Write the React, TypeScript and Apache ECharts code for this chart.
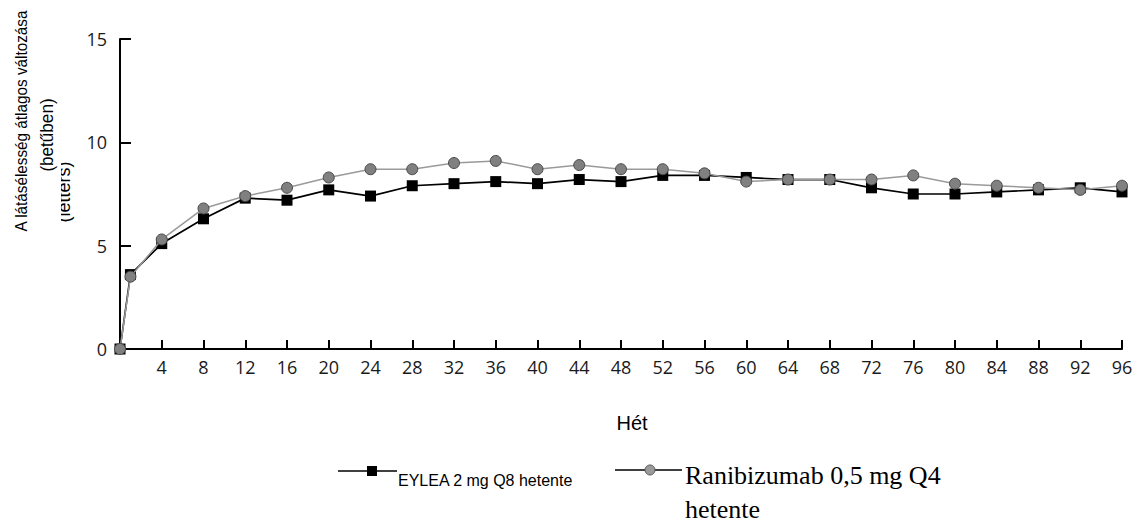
import React, { useEffect, useRef } from "react";
import * as echarts from "echarts";

const weeks = [0, 1, 4, 8, 12, 16, 20, 24, 28, 32, 36, 40, 44, 48, 52, 56, 60, 64, 68, 72, 76, 80, 84, 88, 92, 96];
const eylea = [0, 3.6, 5.1, 6.3, 7.3, 7.2, 7.7, 7.4, 7.9, 8.0, 8.1, 8.0, 8.2, 8.1, 8.4, 8.4, 8.3, 8.2, 8.2, 7.8, 7.5, 7.5, 7.6, 7.7, 7.8, 7.6];
const ranibizumab = [0, 3.5, 5.3, 6.8, 7.4, 7.8, 8.3, 8.7, 8.7, 9.0, 9.1, 8.7, 8.9, 8.7, 8.7, 8.5, 8.1, 8.2, 8.2, 8.2, 8.4, 8.0, 7.9, 7.8, 7.7, 7.9];

const seriesNames = ["EYLEA 2 mg Q8 hetente", "Ranibizumab 0,5 mg Q4", "hetente"];
const yTitle = ["A látásélesség átlagos változása", "(betűben)", "(letters)"];
const xTitle = "Hét";

export default function App() {
  const ref = useRef<HTMLDivElement>(null);
  useEffect(() => {
    document.body.style.margin = "0";
    const chart = echarts.init(ref.current!, null, { renderer: "svg" });
    const axisFont = { fontFamily: "Open Sans", fontSize: 18, color: "#1a1a1a" };
    const sans = "'Liberation Sans', Arial, sans-serif";
    const serif = "'Liberation Serif', 'Times New Roman', serif";
    chart.setOption({
      animation: false,
      backgroundColor: "#ffffff",
      grid: { left: 120, right: 19, top: 39, bottom: 174, containLabel: false },
      xAxis: {
        type: "value",
        min: 0,
        max: 96,
        interval: 4,
        axisLine: { show: true, onZero: false, lineStyle: { color: "#000", width: 2 } },
        axisTick: { show: true, inside: true, length: 9, lineStyle: { color: "#000", width: 2 } },
        axisLabel: { ...axisFont, margin: 9, formatter: (v: number) => (v === 0 ? "" : String(v)) },
        splitLine: { show: false },
      },
      yAxis: {
        type: "value",
        min: 0,
        max: 15,
        interval: 5,
        axisLine: { show: true, lineStyle: { color: "#000", width: 2 } },
        axisTick: { show: true, inside: true, length: 11, lineStyle: { color: "#000", width: 2 } },
        axisLabel: { ...axisFont, margin: 13 },
        splitLine: { show: false },
      },
      series: [
        {
          name: seriesNames[0],
          type: "line",
          data: weeks.map((w, i) => [w, eylea[i]]),
          symbol: "rect",
          symbolSize: 11,
          showAllSymbol: true,
          lineStyle: { color: "#000", width: 1.7 },
          itemStyle: { color: "#000", borderColor: "#000", borderWidth: 0 },
          z: 2,
        },
        {
          name: seriesNames[1],
          type: "line",
          data: weeks.map((w, i) => [w, ranibizumab[i]]),
          symbol: "circle",
          symbolSize: 11,
          showAllSymbol: true,
          lineStyle: { color: "#9a9a9a", width: 1.5 },
          itemStyle: { color: "#808080", borderColor: "#4a4a4a", borderWidth: 1 },
          z: 3,
        },
      ],
      graphic: [
        {
          type: "text",
          x: 21,
          y: 121,
          z: 3,
          rotation: Math.PI / 2,
          scaleX: 0.9,
          style: { text: yTitle[0], font: `17px ${sans}`, fill: "#000", textAlign: "center", textVerticalAlign: "middle" },
        },
        {
          type: "text",
          x: 47,
          y: 135,
          z: 3,
          rotation: Math.PI / 2,
          scaleX: 0.95,
          style: { text: yTitle[1], font: `18px ${sans}`, fill: "#000", textAlign: "center", textVerticalAlign: "middle" },
        },
        {
          type: "text",
          x: 64,
          y: 192,
          z: 1,
          rotation: Math.PI / 2,
          style: { text: yTitle[2], font: `18px ${sans}`, fill: "#000", textAlign: "center", textVerticalAlign: "middle" },
        },
        {
          type: "rect",
          z: 2,
          shape: { x: 55, y: 150, width: 6, height: 85 },
          style: { fill: "#fff" },
        },
        {
          type: "text",
          x: 632,
          y: 423,
          style: { text: xTitle, font: `20px ${sans}`, fill: "#000", textAlign: "center", textVerticalAlign: "middle" },
        },
        // legend item 1
        { type: "line", shape: { x1: 338, y1: 471, x2: 397, y2: 471 }, style: { stroke: "#000", lineWidth: 1.5 } },
        { type: "rect", shape: { x: 367, y: 466, width: 10, height: 10 }, style: { fill: "#000" } },
        {
          type: "text",
          x: 398,
          y: 480,
          style: { text: seriesNames[0], font: `16px ${sans}`, fill: "#000", textAlign: "left", textVerticalAlign: "middle" },
        },
        // legend item 2
        { type: "line", shape: { x1: 615, y1: 470, x2: 682, y2: 470 }, style: { stroke: "#000", lineWidth: 1.5 } },
        { type: "circle", shape: { cx: 650, cy: 470, r: 5 }, style: { fill: "#9a9a9a", stroke: "#555", lineWidth: 1 } },
        {
          type: "text",
          x: 685,
          y: 475,
          style: { text: seriesNames[1], font: `26px ${serif}`, fill: "#000", textAlign: "left", textVerticalAlign: "middle" },
        },
        {
          type: "text",
          x: 685,
          y: 509,
          style: { text: seriesNames[2], font: `26px ${serif}`, fill: "#000", textAlign: "left", textVerticalAlign: "middle" },
        },
      ],
    });
    return () => chart.dispose();
  }, []);
  return <div ref={ref} style={{ width: 1141, height: 523 }} />;
}
